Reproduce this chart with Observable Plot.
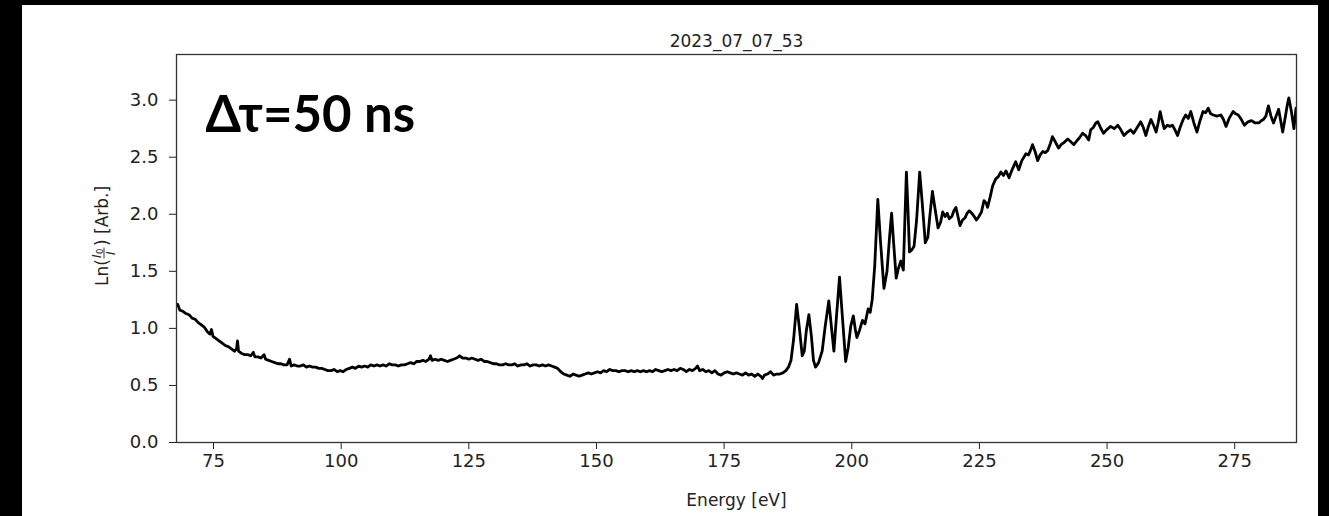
<!DOCTYPE html>
<html><head><meta charset="utf-8">
<script src="https://cdn.jsdelivr.net/npm/d3@7"></script>
<script src="https://cdn.jsdelivr.net/npm/@observablehq/plot@0.6"></script>
<style>
html,body{margin:0;padding:0;background:#000;overflow:hidden;}
#panel{position:absolute;left:22px;top:5px;width:1296px;height:520px;background:#fff;}
</style></head><body><div id="panel"></div>
<script>
const title = "2023_07_07_53";
const annotation = "Δτ=50 ns";
const xLabel = "Energy [eV]";
const xTicks = [75, 100, 125, 150, 175, 200, 225, 250, 275];
const yTicks = [0, 0.5, 1.0, 1.5, 2.0, 2.5, 3.0];

const energy = [
68.0,68.4,69.0,69.6,70.2,70.8,71.4,72.0,72.6,73.2,73.8,74.3,74.6,74.9,75.5,76.1,76.7,77.3,77.9,78.5,
79.1,79.5,79.7,79.9,80.5,81.1,81.7,82.3,82.8,83.1,83.7,84.3,84.9,85.2,85.8,86.4,87.0,87.6,88.2,88.8,
89.4,89.9,90.2,90.8,91.4,92.0,92.6,93.2,93.8,94.4,95.0,95.6,96.2,96.8,97.4,98.0,98.6,99.2,99.8,100.4,
101.0,101.6,102.2,102.8,103.4,104.0,104.6,105.2,105.8,106.4,107.0,107.6,108.2,108.8,109.4,110.0,110.6,111.2,111.8,112.4,
113.0,113.6,114.2,114.8,115.4,116.0,116.6,117.2,117.5,117.8,118.4,119.0,119.6,120.2,120.8,121.4,122.0,122.6,123.2,123.8,
124.4,125.0,125.6,126.2,126.8,127.4,128.0,128.6,129.2,129.8,130.4,131.0,131.6,132.2,132.8,133.4,134.0,134.6,135.2,135.8,
136.4,137.0,137.6,138.2,138.8,139.4,140.0,140.6,141.2,141.8,142.4,143.0,143.6,144.2,144.8,145.4,146.0,146.6,147.2,147.8,
148.4,149.0,149.6,150.2,150.8,151.4,152.0,152.6,153.2,153.8,154.4,155.0,155.6,156.2,156.8,157.4,158.0,158.6,159.2,159.8,
160.4,161.0,161.6,162.2,162.8,163.4,164.0,164.6,165.2,165.8,166.4,167.0,167.6,168.2,168.8,169.4,169.8,170.2,170.8,171.4,
172.0,172.6,173.2,173.8,174.4,175.0,175.6,176.2,176.8,177.4,178.0,178.6,179.2,179.8,180.4,181.0,181.6,182.2,182.5,182.9,
183.5,184.1,184.7,185.3,185.9,186.5,187.1,187.6,188.1,188.6,189.2,189.7,190.3,190.7,191.1,191.6,192.1,192.5,192.9,193.5,
194.2,194.8,195.5,196.0,196.5,197.0,197.6,198.2,198.8,199.3,199.8,200.3,200.7,201.0,201.5,202.1,202.6,203.2,203.6,204.0,
204.5,205.1,205.6,206.3,206.9,207.4,207.8,208.2,208.7,209.1,209.6,210.1,210.4,210.7,211.0,211.3,211.8,212.2,212.7,213.3,
213.8,214.4,214.9,215.3,215.8,216.3,216.9,217.4,217.8,218.3,218.7,219.1,219.6,220.0,220.4,220.8,221.2,221.7,222.2,222.6,
223.0,223.5,224.0,224.4,224.9,225.4,225.9,226.3,226.6,227.1,227.6,228.2,228.7,229.2,229.7,230.2,230.8,231.3,231.7,232.1,
232.7,233.3,233.7,234.1,234.6,235.0,235.4,235.9,236.4,236.9,237.4,237.9,238.4,238.9,239.3,239.8,240.5,241.0,241.6,242.3,
242.8,243.5,244.0,244.6,245.2,245.8,246.4,246.8,247.3,247.8,248.2,248.7,249.3,249.9,250.7,251.4,252.1,252.7,253.3,254.0,
254.6,255.2,255.9,256.6,257.1,257.6,258.1,258.6,259.1,259.6,260.0,260.4,260.8,261.2,261.8,262.3,262.8,263.3,263.8,264.3,
264.9,265.4,265.9,266.4,267.0,267.6,268.2,268.8,269.3,269.8,270.3,270.8,271.5,272.3,272.8,273.3,273.9,274.7,275.2,275.7,
276.3,276.9,277.6,278.3,279.0,279.7,280.2,280.6,281.1,281.6,282.1,282.6,283.1,283.6,284.0,284.4,284.9,285.3,285.6,286.1,
286.6,287.0
];
const absorbance = [
1.21,1.16,1.15,1.13,1.12,1.09,1.08,1.05,1.03,1.01,0.97,0.95,0.99,0.93,0.91,0.89,0.87,0.85,0.84,0.82,
0.80,0.82,0.89,0.80,0.78,0.77,0.77,0.76,0.79,0.75,0.75,0.74,0.77,0.73,0.72,0.71,0.70,0.69,0.69,0.68,
0.68,0.73,0.67,0.68,0.67,0.67,0.68,0.66,0.67,0.66,0.66,0.65,0.65,0.64,0.63,0.63,0.64,0.62,0.63,0.62,
0.64,0.65,0.66,0.65,0.67,0.66,0.67,0.66,0.68,0.67,0.68,0.67,0.68,0.67,0.69,0.68,0.68,0.67,0.68,0.68,
0.69,0.70,0.69,0.71,0.71,0.72,0.71,0.73,0.76,0.72,0.73,0.72,0.73,0.72,0.71,0.72,0.73,0.74,0.76,0.74,
0.74,0.73,0.74,0.73,0.72,0.73,0.71,0.71,0.70,0.69,0.69,0.68,0.68,0.69,0.68,0.68,0.69,0.67,0.68,0.68,
0.69,0.67,0.68,0.68,0.67,0.68,0.67,0.68,0.67,0.66,0.65,0.62,0.60,0.59,0.58,0.60,0.59,0.58,0.59,0.60,
0.61,0.60,0.61,0.62,0.61,0.63,0.62,0.64,0.63,0.63,0.62,0.63,0.63,0.62,0.63,0.62,0.63,0.62,0.63,0.62,
0.63,0.62,0.64,0.63,0.62,0.63,0.64,0.63,0.64,0.63,0.65,0.64,0.62,0.64,0.63,0.65,0.67,0.63,0.64,0.62,
0.63,0.61,0.63,0.60,0.59,0.61,0.62,0.61,0.60,0.61,0.60,0.59,0.61,0.59,0.60,0.58,0.60,0.58,0.56,0.59,
0.60,0.62,0.59,0.60,0.60,0.61,0.63,0.66,0.72,0.90,1.21,1.02,0.76,0.80,0.98,1.12,0.93,0.72,0.66,0.70,
0.80,1.02,1.24,1.02,0.80,1.10,1.45,1.08,0.71,0.83,1.02,1.11,0.99,0.92,0.98,1.07,1.04,1.17,1.14,1.25,
1.55,2.13,1.78,1.35,1.50,1.80,2.01,1.75,1.44,1.52,1.59,1.51,1.95,2.37,2.05,1.67,1.69,1.72,1.95,2.37,
2.10,1.75,1.80,1.99,2.20,2.05,1.88,1.93,2.02,1.98,2.01,1.96,1.98,2.03,2.06,1.98,1.90,1.95,1.97,2.01,
2.03,2.01,1.98,1.95,1.98,2.02,2.12,2.10,2.06,2.15,2.25,2.31,2.33,2.37,2.34,2.38,2.32,2.38,2.42,2.46,
2.39,2.47,2.50,2.53,2.52,2.56,2.61,2.55,2.47,2.52,2.55,2.54,2.56,2.62,2.68,2.64,2.58,2.61,2.63,2.66,
2.64,2.61,2.64,2.67,2.71,2.69,2.65,2.74,2.76,2.80,2.81,2.76,2.71,2.74,2.77,2.75,2.78,2.74,2.69,2.72,
2.74,2.71,2.76,2.81,2.76,2.69,2.77,2.83,2.78,2.72,2.80,2.90,2.82,2.75,2.78,2.77,2.78,2.74,2.69,2.76,
2.83,2.87,2.84,2.90,2.80,2.72,2.82,2.90,2.89,2.93,2.88,2.87,2.86,2.87,2.83,2.77,2.84,2.90,2.88,2.87,
2.83,2.78,2.81,2.82,2.80,2.80,2.82,2.83,2.86,2.95,2.86,2.80,2.86,2.92,2.82,2.72,2.85,2.96,3.02,2.90,
2.75,2.93
];

const data = energy.map((e, i) => ({e, a: absorbance[i]}));

const plot = Plot.plot({
  width: 1296,
  height: 511,
  marginLeft: 154,
  marginTop: 49,
  marginRight: 22,
  marginBottom: 74,
  style: {fontFamily: "DejaVu Sans", fontSize: "18px", color: "#222", background: "#fff", overflow: "visible"},
  x: {domain: [67.75, 287.1]},
  y: {domain: [0, 3.4]},
  marks: [
    Plot.axisX({ticks: xTicks, tickSize: 7, tickPadding: 5, label: null, fontSize: 18, tickFormat: d3.format("d")}),
    Plot.axisY({ticks: yTicks, tickSize: 7, tickPadding: 11, label: null, fontSize: 18, tickFormat: d3.format(".1f")}),
    Plot.line(data, {x: "e", y: "a", stroke: "#000", strokeWidth: 2.8, clip: true}),
    Plot.frame({stroke: "#333", strokeWidth: 1.3}),
    Plot.text([title], {frameAnchor: "top", lineAnchor: "bottom", dy: -8, text: d => d, fontSize: 17, fill: "#222"}),
    Plot.text([xLabel], {frameAnchor: "bottom", lineAnchor: "bottom", dy: 63, text: d => d, fontSize: 17, fill: "#222"}),
    Plot.text([annotation], {frameAnchor: "top-left", textAnchor: "start", lineAnchor: "bottom", dx: 29, dy: 77,
      text: d => d, fontSize: 51, fontWeight: "bold", fontFamily: "Lato", fill: "#000"})
  ]
});
document.getElementById("panel").appendChild(plot);

// y-axis label with stacked fraction: Ln(I0 / I) [Arb.]
const svg = d3.select(plot);
const g = svg.append("g")
  .attr("fill", "#222")
  .attr("font-family", "DejaVu Sans")
  .attr("text-anchor", "start")
  .attr("transform", "translate(86,281) rotate(-90)");
g.append("text").attr("x", 0).attr("y", 0).attr("font-size", 17).text("Ln(");
g.append("text").attr("x", 28).attr("y", -7).attr("font-size", 12).attr("font-style", "italic").text("I");
g.append("text").attr("x", 32).attr("y", -5).attr("font-size", 8.5).text("0");
g.append("line").attr("x1", 27.5).attr("x2", 38.5).attr("y1", -4).attr("y2", -4)
  .attr("stroke", "#222").attr("stroke-width", 0.9);
g.append("text").attr("x", 31).attr("y", 7).attr("font-size", 12).attr("font-style", "italic").text("I");
g.append("text").attr("x", 40).attr("y", 0).attr("font-size", 17).text(") [Arb.]");
</script>
</body></html>
